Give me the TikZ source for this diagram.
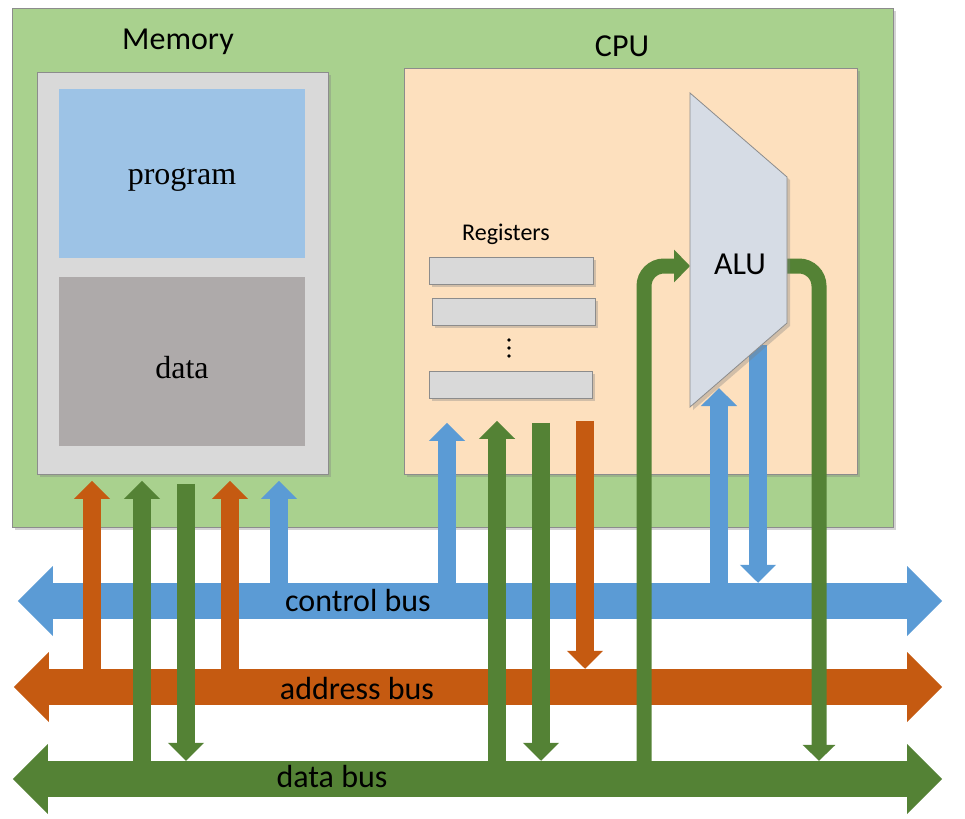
\documentclass[tikz,border=0pt]{standalone}
\usepackage{fontspec}
\setmainfont{Carlito}
\newfontfamily\timesfont{Liberation Serif}
\usetikzlibrary{arrows.meta,shadows}
\definecolor{boardgreen}{HTML}{A9D18E}
\definecolor{darkgreen}{HTML}{548235}
\definecolor{busorange}{HTML}{C55A11}
\definecolor{busblue}{HTML}{5B9BD5}
\definecolor{cpupeach}{HTML}{FDE0BE}
\definecolor{progblue}{HTML}{9DC3E6}
\definecolor{datagray}{HTML}{AEAAAA}
\definecolor{regray}{HTML}{D9D9D9}
\definecolor{alugray}{HTML}{D6DCE5}
\definecolor{edgegray}{HTML}{8C8C8C}

\tikzset{
  panel/.style={draw=edgegray, line width=0.8pt, anchor=north west, inner sep=0pt},
  shade/.style={drop shadow={shadow xshift=3pt, shadow yshift=-3pt, opacity=.35}},
  lbl/.style={font=\fontsize{32}{38}\selectfont},
  serlbl/.style={font=\timesfont\fontsize{32}{38}\selectfont},
  bus/.style={minimum height=36pt, inner sep=0pt},
  bigarrow/.style={line width=18pt, -{Triangle[width=35pt,length=18pt]}},
  garrow/.style={bigarrow, draw=darkgreen},
  oarrow/.style={bigarrow, draw=busorange},
  barrow/.style={bigarrow, draw=busblue},
  looparrow/.style={line width=15pt, draw=darkgreen, rounded corners=20pt,
    -{Triangle[width=32pt,length=16pt]}}
}

\begin{document}
\begin{tikzpicture}[x=1pt,y=-1pt]
\useasboundingbox (0,0) rectangle (965,818);

% boxes
\node[panel, shade, fill=boardgreen, minimum width=881pt, minimum height=519pt] (board) at (12,8) {};
\node[panel, shade, fill=regray, minimum width=291pt, minimum height=402pt] (mem) at (37,72) {};
\node[panel, draw=none, fill=progblue, minimum width=246pt, minimum height=169pt] (prog) at (59,89) {};
\node[panel, draw=none, fill=datagray, minimum width=246pt, minimum height=169pt] (datamem) at (59,277) {};
\node[panel, shade, fill=cpupeach, minimum width=453pt, minimum height=406pt] (cpu) at (404,68) {};
\node[lbl] (memlabel) at (178,42) {Memory};
\node[lbl] (cpulabel) at (622,46) {CPU};
\node[serlbl] (proglabel) at (182,180) {program};
\node[serlbl] (datalbl) at (182,368) {data};

% registers
\node[font=\fontsize{24}{29}\selectfont] (reglabel) at (506,234) {Registers};
\node[panel, shade, fill=regray, minimum width=164pt, minimum height=27pt] (reg1) at (429,257) {};
\node[panel, shade, fill=regray, minimum width=163pt, minimum height=27pt] (reg2) at (432,298) {};
\node[panel, shade, fill=regray, minimum width=163pt, minimum height=27pt] (reg3) at (429,371) {};
\foreach \y in {340,348,356}
  \fill (509,\y) circle (1.8pt);

% buses
\node[bus, fill=busblue, minimum width=854pt] (ctrlbus) at (480,601) {};
\node[bus, fill=busorange, minimum width=858pt] (addrbus) at (478,687) {};
\node[bus, fill=darkgreen, minimum width=859pt] (databus) at (477.5,779) {};
\foreach \b/\c in {ctrlbus/busblue, addrbus/busorange, databus/darkgreen} {
  \fill[\c] (\b.west) ++(0,-35) -- ++(-35,35) -- ++(35,35) -- cycle;
  \fill[\c] (\b.east) ++(0,-35) -- ++(35,35) -- ++(-35,35) -- cycle;
}
\node[lbl] (ctrllabel) at (358,601) {control bus};
\node[lbl] (addrlabel) at (357,688) {address bus};
\node[lbl] (datalabel) at (332,776) {data bus};

% memory side
\draw[oarrow, shorten >=6pt] (addrbus.north -| 92,0) -- (mem.south -| 92,0);
\draw[garrow, shorten >=6pt] (databus.north -| 142,0) -- (mem.south -| 142,0);
\draw[garrow, shorten <=9pt] (mem.south -| 186,0) -- (databus.north -| 186,0);
\draw[oarrow, shorten >=6pt] (addrbus.north -| 230,0) -- (mem.south -| 230,0);
\draw[barrow, shorten >=6pt] (ctrlbus.north -| 279,0) -- (mem.south -| 279,0);

% cpu side
\draw[barrow, shorten >=24pt] (ctrlbus.north -| 447,0) -- (reg3.south -| 447,0);
\draw[garrow, shorten >=22pt] (databus.north -| 497,0) -- (reg3.south -| 497,0);
\draw[garrow, shorten <=24pt] (reg3.south -| 541,0) -- (databus.north -| 541,0);
\draw[oarrow, shorten <=22pt] (reg3.south -| 585,0) -- (addrbus.north -| 585,0);

% alu
\coordinate (aluin) at (690,266);
\coordinate (aluout) at (787,266);
\coordinate (alubot) at (719,388);
\coordinate (aluback) at (758,345);
\draw[barrow] (ctrlbus.north -| 719,0) -- (alubot);
\draw[barrow] (aluback) -- (ctrlbus.north -| 758,0);
\draw[looparrow] (databus.north -| 644,0) |- (aluin);
\draw[looparrow] (aluout) -| (databus.north -| 819,0);
\draw[draw=edgegray, line width=0.8pt, fill=alugray, shade]
  (690,93) -- (787,177) -- (787,323) -- (690,407) -- cycle;
\node[lbl] (alu) at (740,264) {ALU};
\end{tikzpicture}
\end{document}
